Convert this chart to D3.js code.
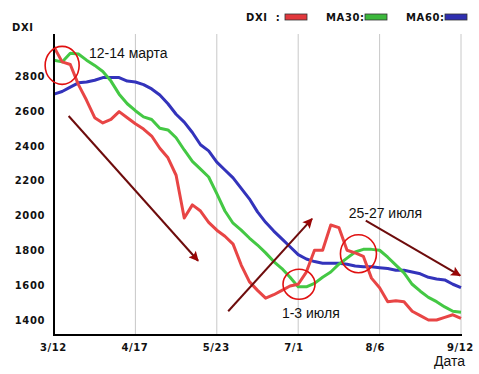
<!DOCTYPE html>
<html>
<head>
<meta charset="utf-8">
<script src="https://cdnjs.cloudflare.com/ajax/libs/d3/7.8.5/d3.min.js"></script>
<style>
  body { margin: 0; background: #fff; }
  .tick-lbl { font-family: "DejaVu Sans", Verdana, sans-serif; font-weight: bold; font-size: 10px; letter-spacing: 0.6px; fill: #111; }
  .note { font-family: "Liberation Sans", Arial, sans-serif; font-size: 14px; fill: #111; }
</style>
</head>
<body>
<div class="container"></div>
<script>
// размеры
const width = 479
const height = 374
const margin = { top: 34, bottom: 39, left: 54, right: 18 }

// данные (ось X - номер точки, подписи дат на каждой 10-й)
const dateLabels = ["3/12", "4/17", "5/23", "7/1", "8/6", "9/12"]
const dateTicks = [0, 10, 20, 30, 40, 50]
const yTicks = [1400, 1600, 1800, 2000, 2200, 2400, 2600, 2800]

const dxi = [2965,2880,2865,2750,2660,2560,2530,2550,2595,2560,
  2525,2495,2455,2385,2330,2230,1985,2060,2025,1960,
  1915,1880,1835,1715,1620,1570,1525,1545,1570,1595,
  1605,1675,1800,1800,1945,1930,1800,1785,1765,1640,
  1585,1505,1510,1505,1450,1425,1400,1400,1415,1430,1410]
const ma30 = [2890,2880,2930,2925,2890,2860,2825,2770,2695,2640,
  2600,2565,2550,2500,2490,2445,2375,2310,2265,2220,
  2125,2025,1955,1915,1870,1830,1785,1735,1695,1645,
  1590,1590,1610,1645,1675,1720,1755,1790,1805,1805,
  1800,1760,1715,1670,1605,1565,1530,1505,1475,1450,1445]
const ma60 = [2695,2710,2735,2760,2765,2775,2790,2790,2790,2770,
  2765,2750,2725,2690,2640,2580,2535,2475,2405,2370,
  2305,2260,2215,2155,2095,2020,1960,1910,1865,1820,
  1775,1750,1735,1725,1725,1725,1720,1710,1705,1705,
  1700,1695,1685,1685,1675,1665,1645,1635,1630,1605,1585]

const seriesNames = ["DXI", "MA30", "MA60"]
const seriesColors = ["#e84545", "#44c844", "#3333bb"]
const legendColors = ["#e2383c", "#3cb83c", "#2f2fb0"]

// аннотации (в единицах данных)
const circles = [
  { i: 1.0, v: 2860, rx: 17, ry: 19 },
  { i: 30.1, v: 1605, rx: 16, ry: 15 },
  { i: 37.4, v: 1780, rx: 18, ry: 19 }
]
const arrows = [
  { i0: 1.8, v0: 2570, i1: 17.7, v1: 1740 },
  { i0: 21.4, v0: 1450, i1: 31.7, v1: 1980 },
  { i0: 38.3, v0: 1970, i1: 49.9, v1: 1655 }
]
const notes = [
  { text: "12-14 марта", i: 4.3, v: 2900 },
  { text: "1-3 июля", i: 28.0, v: 1410 },
  { text: "25-27 июля", i: 36.2, v: 1985 }
]

const svg = d3.select(".container").append("svg").attr("width", width).attr("height", height)

const x = d3.scaleLinear().domain([0, 50]).range([margin.left, width - margin.right])
const y = d3.scaleLinear().domain([1314, 3040]).range([height - margin.bottom, margin.top])

// вертикальная сетка
svg.append("g").selectAll("line").data(dateTicks.slice(1))
  .join("line")
  .attr("x1", d => x(d)).attr("x2", d => x(d))
  .attr("y1", y(3040)).attr("y2", y(1314))
  .attr("stroke", "#c8c8c8").attr("stroke-width", 1)

// подписи оси Y
svg.append("g").selectAll("text").data(yTicks)
  .join("text")
  .attr("class", "tick-lbl")
  .attr("x", margin.left - 9)
  .attr("y", d => y(d) + 4)
  .attr("text-anchor", "end")
  .text(d => d)

// подписи оси X
svg.append("g").selectAll("text").data(dateTicks)
  .join("text")
  .attr("class", "tick-lbl")
  .attr("x", d => x(d) - 14)
  .attr("y", 351)
  .text((d, i) => dateLabels[i])

svg.append("text").attr("class", "tick-lbl").attr("x", 12).attr("y", 31).text("DXI")
svg.append("text").attr("class", "note").attr("x", 434).attr("y", 366).text("Дата")

// линии
const line = d3.line().x((d, i) => x(i)).y(d => y(d)).curve(d3.curveLinear)
const allSeries = [ma60, ma30, dxi]
const allColors = [seriesColors[2], seriesColors[1], seriesColors[0]]
svg.append("g").selectAll("path").data(allSeries)
  .join("path")
  .attr("d", line)
  .attr("fill", "none")
  .attr("stroke", (d, i) => allColors[i])
  .attr("stroke-width", 3)
  .attr("stroke-linejoin", "round")

// оси
svg.append("line").attr("x1", x(0)).attr("x2", x(0)).attr("y1", y(3040)).attr("y2", y(1314) + 1)
  .attr("stroke", "#000").attr("stroke-width", 2)
svg.append("line").attr("x1", x(0) - 1).attr("x2", x(50) + 1).attr("y1", y(1314)).attr("y2", y(1314))
  .attr("stroke", "#000").attr("stroke-width", 2)

// легенда
const legendX = [246, 326, 406]
const legendLbl = ["DXI  :", "MA30:", "MA60:"]
const leg = svg.append("g").selectAll("g").data(seriesNames).join("g")
  .attr("transform", (d, i) => `translate(${legendX[i]},0)`)
leg.append("text").attr("class", "tick-lbl").attr("x", 0).attr("y", 21)
  .attr("xml:space", "preserve").style("white-space", "pre")
  .text((d, i) => legendLbl[i])
leg.append("rect").attr("x", (d, i) => i == 0 ? 39 : 39).attr("y", 14).attr("width", 22).attr("height", 6)
  .attr("fill", (d, i) => legendColors[i]).attr("stroke", "#333").attr("stroke-width", 0.8)

// стрелки
const defs = svg.append("defs")
defs.append("marker").attr("id", "head").attr("viewBox", "0 0 10 10")
  .attr("refX", 9).attr("refY", 5).attr("markerWidth", 7).attr("markerHeight", 5)
  .attr("markerUnits", "strokeWidth").attr("orient", "auto")
  .append("path").attr("d", "M0,0 L10,5 L0,10 L2,5 Z").attr("fill", "#9a0606")

svg.append("g").selectAll("line").data(arrows)
  .join("line")
  .attr("x1", d => x(d.i0)).attr("y1", d => y(d.v0))
  .attr("x2", d => x(d.i1)).attr("y2", d => y(d.v1))
  .attr("stroke", "#6e0c0c").attr("stroke-width", 2)
  .attr("marker-end", "url(#head)")

// круги
svg.append("g").selectAll("ellipse").data(circles)
  .join("ellipse")
  .attr("cx", d => x(d.i)).attr("cy", d => y(d.v))
  .attr("rx", d => d.rx).attr("ry", d => d.ry)
  .attr("fill", "none").attr("stroke", "#e01010").attr("stroke-width", 1.6)

// подписи
svg.append("g").selectAll("text").data(notes)
  .join("text")
  .attr("class", "note")
  .attr("x", d => x(d.i)).attr("y", d => y(d.v))
  .text(d => d.text)
</script>
</body>
</html>
